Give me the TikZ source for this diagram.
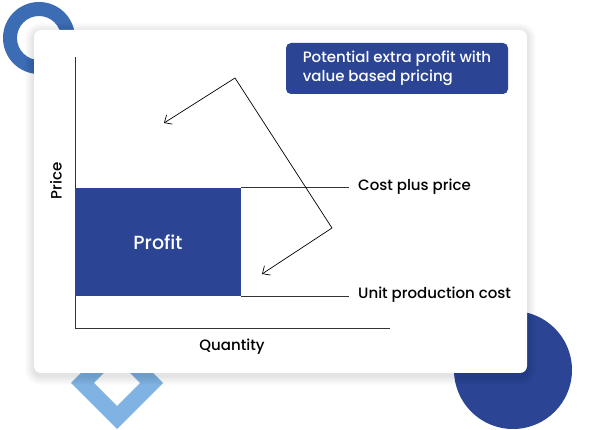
\documentclass[tikz,border=0pt]{standalone}
\usepackage{fontspec}
\setmainfont{Poppins}[UprightFont=* Medium, BoldFont=* SemiBold]
\usetikzlibrary{positioning, arrows.meta}
\definecolor{navy}{HTML}{2B4494}
\definecolor{ringblue}{HTML}{3B6CB4}
\definecolor{skyblue}{HTML}{80B3E3}

\begin{document}
\begin{tikzpicture}[x=1pt, y=-1pt,
    lbl/.style={anchor=base west, inner sep=0pt, font=\fontsize{15}{18}\selectfont},
    axis/.style={draw=black!80, line width=0.8pt},
    pointer/.style={line width=0.7pt, {Straight Barb[length=6pt, width=11pt]}-{Straight Barb[length=6pt, width=11pt]}}]
    \useasboundingbox (0,0) rectangle (595,430);

    % Shapes behind the card
    \fill[ringblue, even odd rule] (39,38) circle (36pt) (39,38) circle (22pt);
    \fill[skyblue, even odd rule] (117,337) -- (163,383) -- (117,429) -- (71,383) -- cycle
        (117,360) -- (140,383) -- (117,406) -- (94,383) -- cycle;
    \fill[navy] (513,370) circle (59pt);

    % Card with soft shadow
    \foreach \s [evaluate=\s as \rc using 7+\s] in {1,...,9}
        \fill[black, opacity=0.012, rounded corners=\rc pt] (34-\s,32-\s) rectangle (527+\s,376+\s);
    \fill[white, rounded corners=7pt] (34,30) rectangle (527,373);

    % Axes
    \coordinate (ytop) at (75,57);
    \coordinate (origin) at (75,328);
    \coordinate (xend) at (390,328);
    \draw[axis] (ytop) -- (origin) -- (xend);
    \node[rotate=90, font=\fontsize{15}{18}\selectfont] (price) at (56,181) {Price};
    \node[font=\fontsize{15}{18}\selectfont] (qty) at (232,347) {Quantity};

    % Profit block
    \node[fill=navy, minimum width=166pt, minimum height=108pt, inner sep=0pt,
        text=white, font=\fontsize{19}{22}\selectfont] (profit) at (158,242) {Profit};

    % Price levels
    \node[lbl] (cost) at (358,191) {Cost plus price};
    \node[lbl] (unit) at (358,299) {Unit production cost};
    \draw[axis, shorten >=9pt] (profit.north east) -- (profit.north east -| cost.west);
    \draw[axis, shorten >=9pt] (profit.south east) -- (profit.south east -| unit.west);

    % Note and pointers
    \node[fill=navy, rounded corners=5pt, minimum width=222pt, minimum height=51pt,
        text=white, align=left, font=\fontsize{15}{19}\selectfont] (note) at (397,68.5)
        {Potential extra profit with\\value based pricing};
    \coordinate (tipA) at (164,123);
    \coordinate (apex) at (235,78);
    \coordinate (bend) at (332,228);
    \coordinate (tipB) at (262,274);
    \draw[pointer] (tipA) -- (apex) -- (bend) -- (tipB);
\end{tikzpicture}
\end{document}
